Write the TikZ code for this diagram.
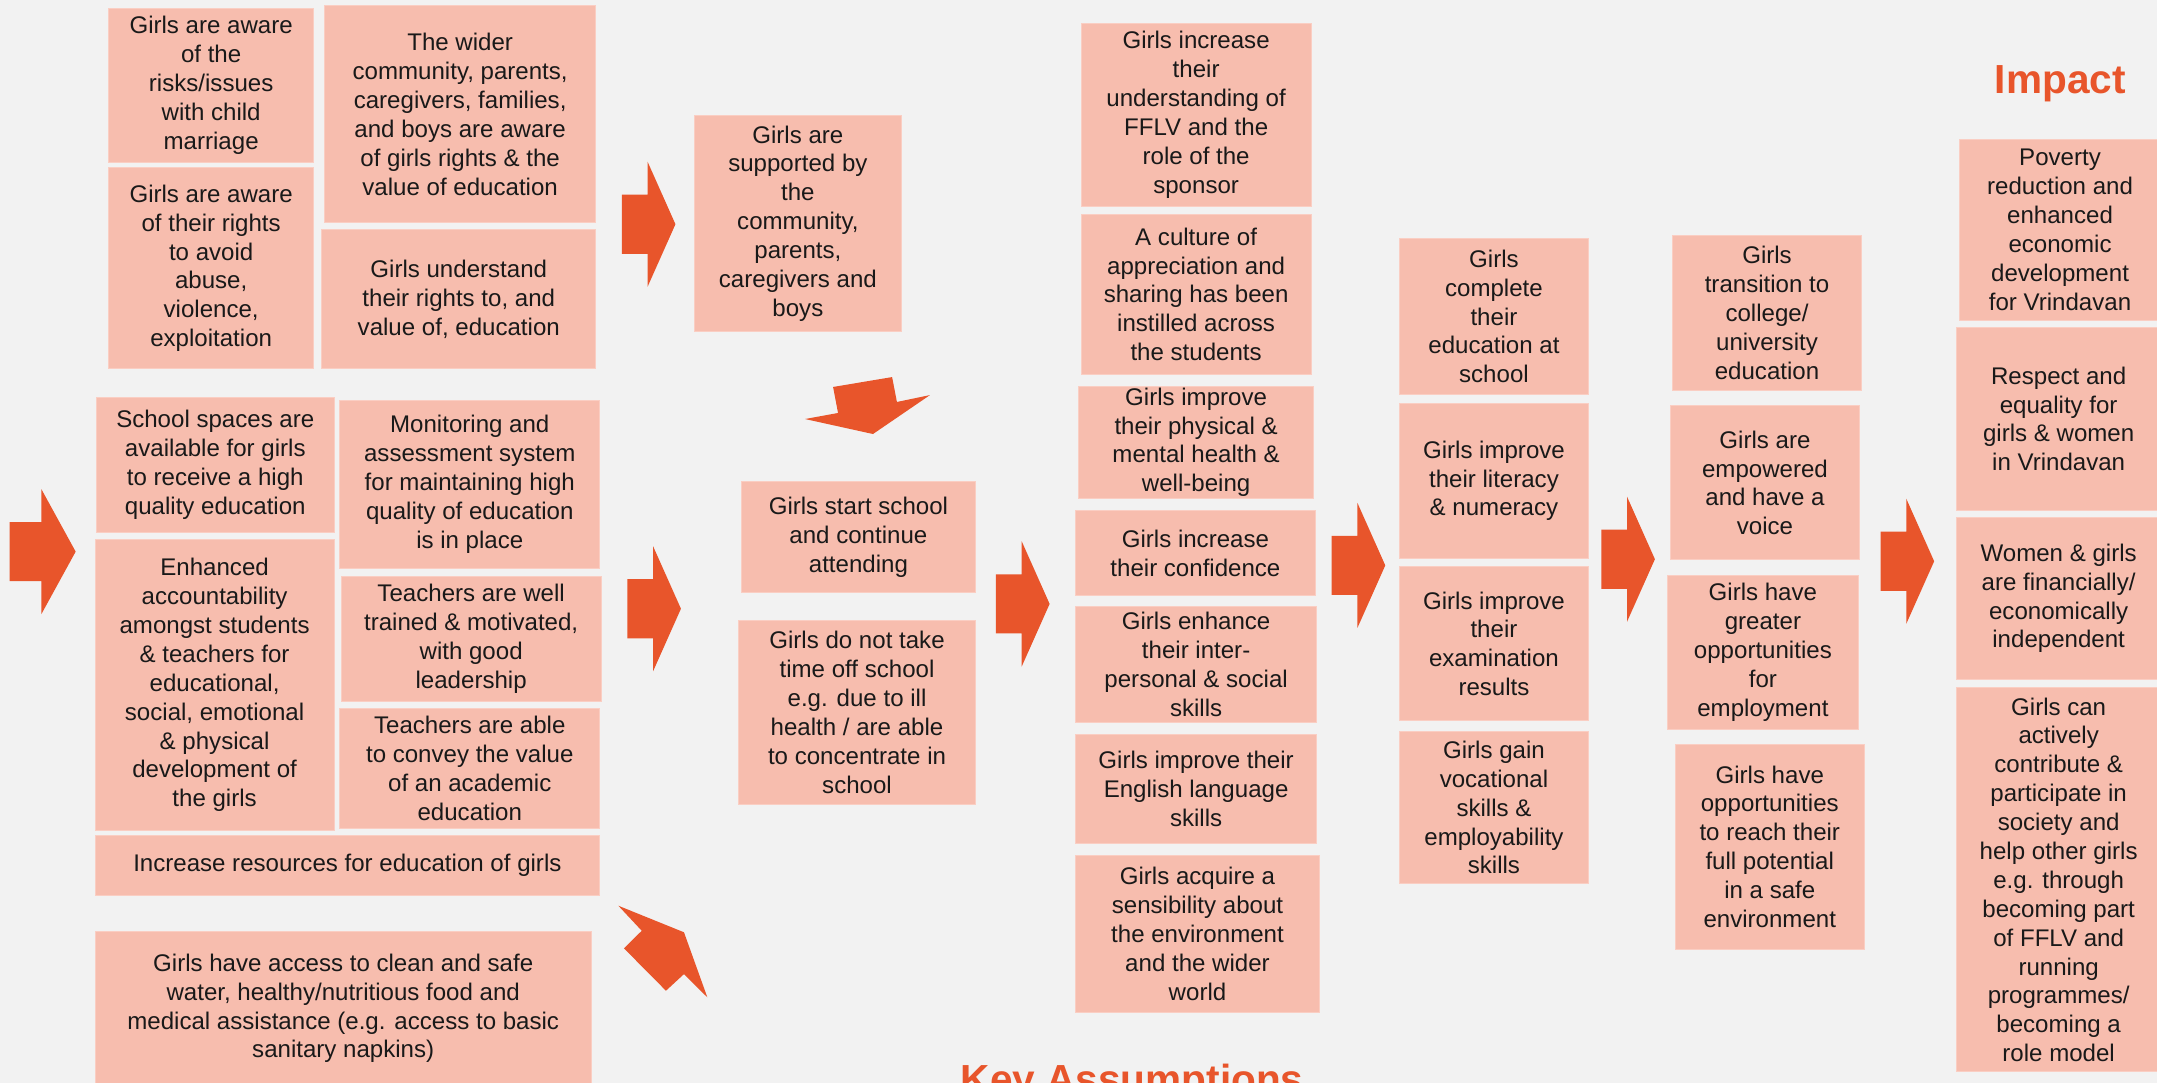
\documentclass[tikz,border=0pt]{standalone}
\usepackage{fontspec}
\setmainfont{Liberation Sans}
\definecolor{bg}{RGB}{242,242,242}
\definecolor{boxfill}{RGB}{247,189,174}
\definecolor{boxedge}{RGB}{250,206,195}
\definecolor{accent}{RGB}{232,85,43}
\tikzset{
  box/.style={rectangle, fill=boxfill, draw=boxedge, line width=0.6pt,
    inner sep=0pt, outer sep=0pt, align=center, text=black!90,
    font=\fontsize{17.5}{21}\selectfont},
  arrowfill/.style={fill=accent},
  heading/.style={text=accent, font=\bfseries\fontsize{29.5}{34}\selectfont,
    inner sep=0pt, anchor=base}
}
% box: name, left, top, right, bottom, text
\newcommand\bx[6]{\node[box, minimum width={(#4-#2)*1pt}, minimum height={(#5-#3)*1pt}]
  (#1) at ({(#2+#4)/2},{(#3+#5)/2}) {#6};}
% block arrow pointing right: left x, centre y, length
\newcommand\rarrow[3]{\fill[arrowfill]
  ({#1},{#2-21.5}) -- ({#1+0.48*#3},{#2-21.5}) -- ({#1+0.48*#3},{#2-45.5}) --
  ({#1+#3},{#2}) -- ({#1+0.48*#3},{#2+45.5}) -- ({#1+0.48*#3},{#2+21.5}) --
  ({#1},{#2+21.5}) -- cycle;}
\begin{document}
\begin{tikzpicture}[x=1pt,y=-1pt]
\useasboundingbox (0,0) rectangle (1568,787);
\fill[bg] (0,0) rectangle (1568,787);
\clip (0,0) rectangle (1568,787);

% inputs: awareness
\bx{aware}{79}{6}{228}{118}{Girls are aware\\of the\\risks/issues\\with child\\marriage}
\bx{rights}{79}{122}{228}{268}{Girls are aware\\of their rights\\to avoid\\abuse,\\violence,\\exploitation}
\bx{community}{236}{4}{433}{162}{The wider\\community, parents,\\caregivers, families,\\and boys are aware\\of girls rights \& the\\value of education}
\bx{understand}{234}{167}{433}{268}{Girls understand\\their rights to, and\\value of, education}
\bx{supported}{505}{84}{655}{241}{Girls are\\supported by\\the\\community,\\parents,\\caregivers and\\boys}

% inputs: schooling
\bx{spaces}{70}{289}{243}{387}{School spaces are\\available for girls\\to receive a high\\quality education}
\bx{monitoring}{247}{291}{436}{413}{Monitoring and\\assessment system\\for maintaining high\\quality of education\\is in place}
\bx{accountability}{69}{392}{243}{604}{Enhanced\\accountability\\amongst students\\\& teachers for\\educational,\\social, emotional\\\& physical\\development of\\the girls}
\bx{trained}{248}{419}{437}{510}{Teachers are well\\trained \& motivated,\\with good\\leadership}
\bx{convey}{247}{515}{436}{602}{Teachers are able\\to convey the value\\of an academic\\education}
\bx{resources}{69}{607}{436}{651}{Increase resources for education of girls}
\bx{access}{69}{677}{430}{789}{Girls have access to clean and safe\\water, healthy/nutritious food and\\medical assistance (e.g. access to basic\\sanitary napkins)}

% attendance
\bx{start}{539}{350}{709}{431}{Girls start school\\and continue\\attending}
\bx{timeoff}{537}{451}{709}{585}{Girls do not take\\time off school\\e.g. due to ill\\health / are able\\to concentrate in\\school}

% personal development
\bx{fflv}{786}{17}{953}{150}{Girls increase\\their\\understanding of\\FFLV and the\\role of the\\sponsor}
\bx{culture}{786}{156}{953}{272}{A culture of\\appreciation and\\sharing has been\\instilled across\\the students}
\bx{health}{784}{281}{955}{362}{Girls improve\\their physical \&\\mental health \&\\well-being}
\bx{confidence}{782}{371}{956}{433}{Girls increase\\their confidence}
\bx{social}{782}{441}{957}{525}{Girls enhance\\their inter-\\personal \& social\\skills}
\bx{english}{782}{534}{957}{613}{Girls improve their\\English language\\skills}
\bx{sensibility}{782}{622}{959}{736}{Girls acquire a\\sensibility about\\the environment\\and the wider\\world}

% school outcomes
\bx{complete}{1017}{173}{1155}{287}{Girls\\complete\\their\\education at\\school}
\bx{literacy}{1017}{293}{1155}{406}{Girls improve\\their literacy\\\& numeracy}
\bx{exams}{1017}{412}{1155}{524}{Girls improve\\their\\examination\\results}
\bx{vocational}{1017}{532}{1155}{642}{Girls gain\\vocational\\skills \&\\employability\\skills}

% later outcomes
\bx{college}{1216}{171}{1353}{284}{Girls\\transition to\\college/\\university\\education}
\bx{voice}{1214}{295}{1352}{407}{Girls are\\empowered\\and have a\\voice}
\bx{employment}{1212}{418}{1351}{530}{Girls have\\greater\\opportunities\\for\\employment}
\bx{potential}{1218}{541}{1355}{690}{Girls have\\opportunities\\to reach their\\full potential\\in a safe\\environment}

% impact
\node[heading] (impact) at (1497.7,68.3) {Impact};
\bx{poverty}{1424}{101}{1571}{233}{Poverty\\reduction and\\enhanced\\economic\\development\\for Vrindavan}
\bx{respect}{1422}{238}{1571}{371}{Respect and\\equality for\\girls \& women\\in Vrindavan}
\bx{independent}{1422}{376}{1571}{494}{Women \& girls\\are financially/\\economically\\independent}
\bx{rolemodel}{1422}{500}{1571}{779}{Girls can\\actively\\contribute \&\\participate in\\society and\\help other girls\\e.g. through\\becoming part\\of FFLV and\\running\\programmes/\\becoming a\\role model}

\node[heading] (assumptions) at (823,795) {Key Assumptions};

% flow arrows
\rarrow{7}{401}{48}
\rarrow{452}{163}{39}
\rarrow{456}{442.5}{39}
\rarrow{724}{439}{39}
\rarrow{968}{411}{39}
\rarrow{1164}{406.5}{39}
\rarrow{1367}{408}{39}
% arrow turning down towards attendance
\fill[arrowfill] (605.6,281.3) -- (648.5,274.1) -- (652,292.2) -- (676,287.2)
  -- (634.6,315.5) -- (585.2,304.6) -- (609.2,300.2) -- cycle;
% arrow rising from the basic needs box
\fill[arrowfill] (449.5,658.4) -- (497.2,677.7) -- (514.2,725.0) -- (497.2,708.1)
  -- (484.1,720.2) -- (453.6,689.4) -- (466.5,676.6) -- cycle;
\end{tikzpicture}
\end{document}
